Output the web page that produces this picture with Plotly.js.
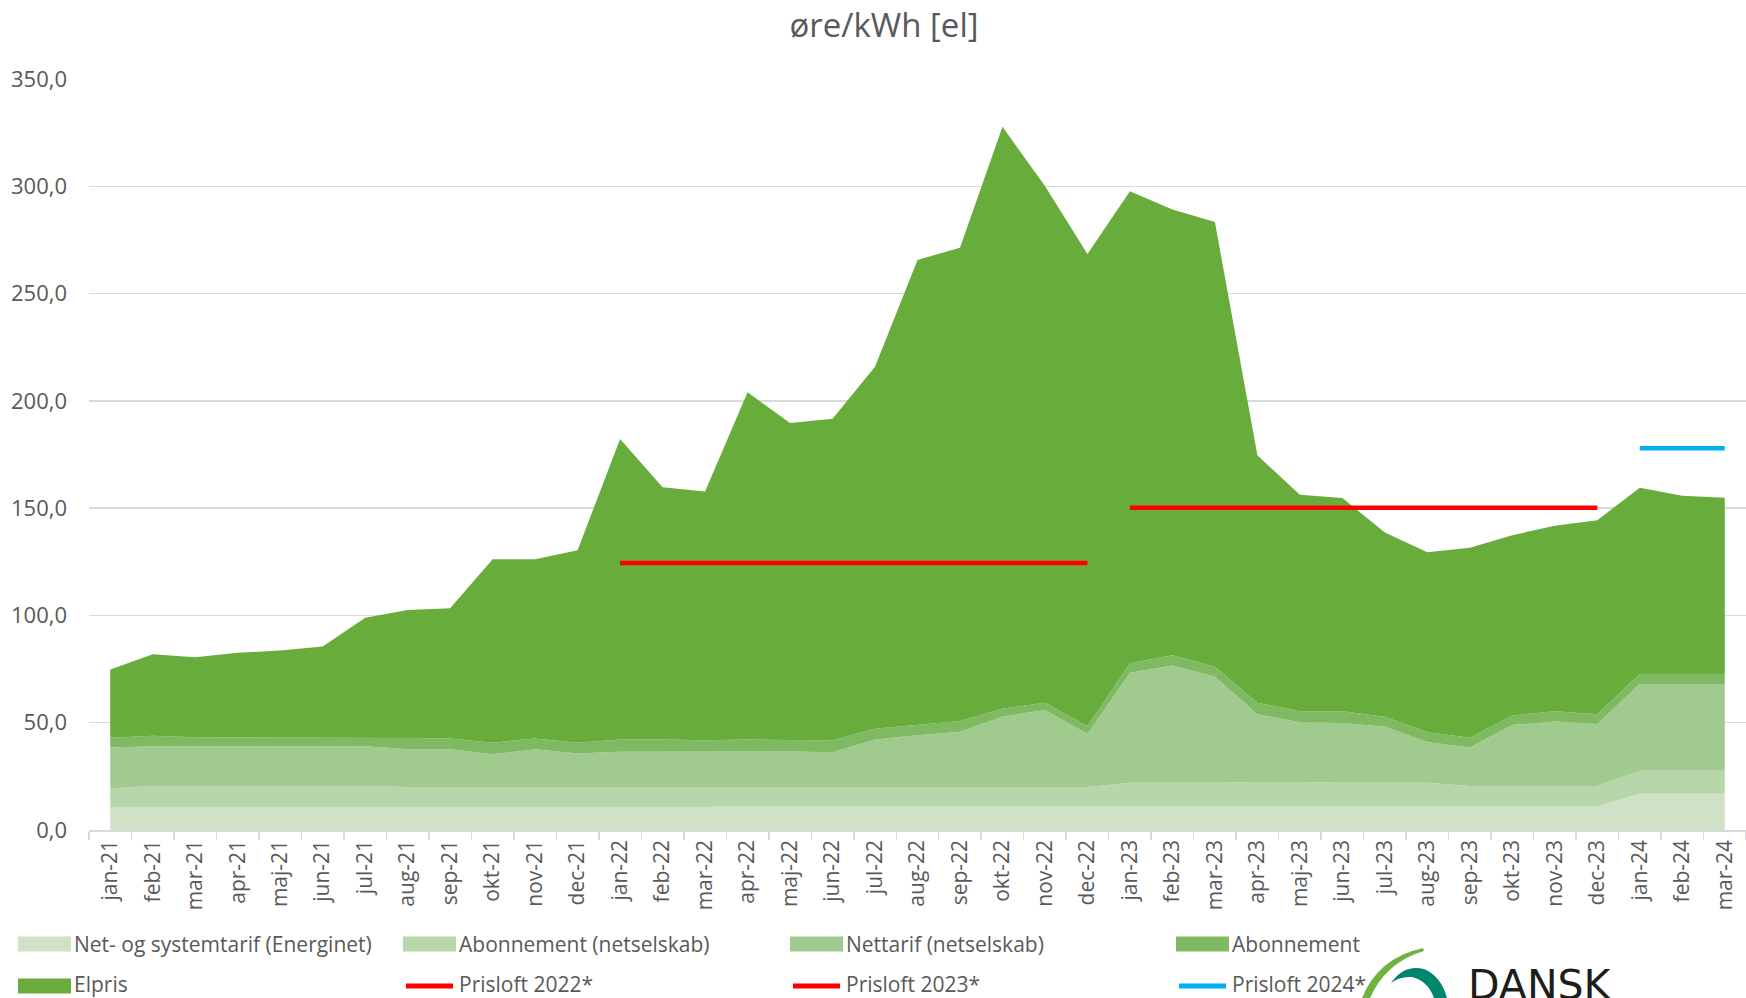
<!DOCTYPE html>
<html>
<head>
<meta charset="utf-8">
<script src="https://cdn.plot.ly/plotly-3.0.1.min.js"></script>
<style>
html,body{margin:0;padding:0;background:#fff;}
#chart{width:1746px;height:998px;}
</style>
</head>
<body>
<div id="chart"></div>
<script>
// ---------- data ----------
const months = ['jan-21','feb-21','mar-21','apr-21','maj-21','jun-21','jul-21','aug-21','sep-21','okt-21','nov-21','dec-21',
  'jan-22','feb-22','mar-22','apr-22','maj-22','jun-22','jul-22','aug-22','sep-22','okt-22','nov-22','dec-22',
  'jan-23','feb-23','mar-23','apr-23','maj-23','jun-23','jul-23','aug-23','sep-23','okt-23','nov-23','dec-23',
  'jan-24','feb-24','mar-24'];

const energinet = [10.7,10.7,10.7,10.7,10.7,10.7,10.7,10.7,10.7,10.7,10.7,10.7,
  10.7,10.7,10.7,11.2,11.2,11.2,11.2,11.2,11.2,11.2,11.2,11.2,
  11.2,11.2,11.2,11.2,11.2,11.2,11.2,11.2,11.2,11.2,11.2,11.2,
  16.9,16.9,16.9];
const aboNetselskab = [8.6,9.8,9.8,9.8,9.8,9.8,9.8,9.3,9.3,9.3,9.3,9.3,
  9.3,9.3,9.3,8.8,8.8,8.8,8.8,8.8,8.8,8.8,8.8,8.8,
  10.8,10.8,10.8,11.2,11.2,10.8,10.8,10.8,9.3,9.3,9.3,9.3,
  10.7,10.7,10.7];
const nettarif = [19.2,18.5,18.5,18.5,18.5,18.5,18.5,17.6,17.6,15.3,17.6,15.6,
  16.5,16.5,16.5,16.8,16.6,16.2,22.2,24.1,25.8,32.8,35.9,24.7,
  51.3,54.7,49.4,31.6,27.8,27.9,26.1,19.0,18.0,28.4,30.1,28.9,
  40.4,40.4,40.4];
const abonnement = [4.5,4.9,4.2,4.2,4.2,4.2,4.2,5.3,5.0,5.4,5.1,5.1,
  5.7,5.7,5.3,5.4,5.3,5.6,5.0,5.0,5.0,3.7,3.4,3.8,
  4.4,4.7,4.7,5.3,5.1,5.4,4.7,4.5,4.5,4.5,4.7,4.5,
  4.7,4.7,4.7];
const elpris = [31.8,38.0,37.3,39.4,40.4,42.3,55.7,59.6,60.8,85.5,83.5,89.7,
  140.0,117.5,116.0,161.8,147.8,149.9,168.7,216.6,220.6,271.2,240.8,220.0,
  220.0,207.8,207.2,115.3,100.9,99.4,85.9,83.9,88.5,84.0,86.5,90.5,
  86.8,83.1,82.1];

const prisloft2022Months = ['jan-22','feb-22','mar-22','apr-22','maj-22','jun-22','jul-22','aug-22','sep-22','okt-22','nov-22','dec-22'];
const prisloft2022 = [124.4,124.4,124.4,124.4,124.4,124.4,124.4,124.4,124.4,124.4,124.4,124.4];
const prisloft2023Months = ['jan-23','feb-23','mar-23','apr-23','maj-23','jun-23','jul-23','aug-23','sep-23','okt-23','nov-23','dec-23'];
const prisloft2023 = [150.2,150.2,150.2,150.2,150.2,150.2,150.2,150.2,150.2,150.2,150.2,150.2];
const prisloft2024Months = ['jan-24','feb-24','mar-24'];
const prisloft2024 = [177.9,177.9,177.9];

const seriesNames = ['Net- og systemtarif (Energinet)','Abonnement (netselskab)','Nettarif (netselskab)','Abonnement','Elpris','Prisloft 2022*','Prisloft 2023*','Prisloft 2024*'];
const yTickVals = [0,50,100,150,200,250,300,350];

// ---------- styling ----------
const areaColors = ['#cfe2c8','#b7d6aa','#a1ca8f','#7fba62','#68ac3c'];
const lineColors = ['#ff0000','#ff0000','#00b0f0'];
const textColor = '#595959';
const FONT = '"Open Sans", "Noto Sans", sans-serif';

const W = 1746, H = 998, ML = 89, MR = 0, MT = 79, MB = 168;
const PW = W - ML - MR, PH = H - MT - MB;
const px = x => (x - ML) / PW;
const py = y => (H - MB - y) / PH;

const areaData = [energinet, aboNetselskab, nettarif, abonnement, elpris];
const traces = areaData.map((vals, i) => ({
  type: 'scatter', mode: 'lines', x: months, y: vals, name: seriesNames[i],
  stackgroup: 'one', fill: 'tonexty', fillcolor: areaColors[i],
  line: {width: 0, color: areaColors[i]}, hoverinfo: 'x+y+name', showlegend: false
}));
[[prisloft2022Months, prisloft2022], [prisloft2023Months, prisloft2023], [prisloft2024Months, prisloft2024]].forEach((d, i) => {
  traces.push({type: 'scatter', mode: 'lines', x: d[0], y: d[1], name: seriesNames[5 + i],
    line: {color: lineColors[i], width: 4.5}, showlegend: false});
});

// ---------- custom legend (Excel-like) ----------
const shapes = [];
const annotations = [];
const legCols = [18, 403, 790, 1176];
const legRows = [944, 984];
seriesNames.forEach((name, i) => {
  const col = i % 4, row = Math.floor(i / 4);
  const x0 = legCols[col], yc = legRows[row];
  const ys = row === 0 ? yc : yc + 2;
  if (i < 5) {
    shapes.push({type: 'rect', xref: 'paper', yref: 'paper', x0: px(x0), x1: px(x0 + 53), y0: py(ys - 7.5), y1: py(ys + 7.5),
      fillcolor: areaColors[i], line: {width: 0}});
  } else {
    shapes.push({type: 'line', xref: 'paper', yref: 'paper', x0: px(x0 + 3), x1: px(x0 + 50), y0: py(ys), y1: py(ys),
      line: {color: lineColors[i - 5], width: 5}});
  }
  annotations.push({xref: 'paper', yref: 'paper', x: px(x0 + 55), y: py(yc), xanchor: 'left', yanchor: 'middle',
    borderpad: 0, text: name, showarrow: false, font: {family: FONT, size: 21, color: textColor}});
});

// ---------- logo (cut off at the bottom right) ----------
const pth = pts => pts.map(p => typeof p === 'string' ? p : (px(p[0]).toFixed(5) + ',' + py(p[1]).toFixed(5))).join(' ');
shapes.push({type: 'path', xref: 'paper', yref: 'paper', fillcolor: '#6db540', line: {width: 0},
  path: pth(['M', [1423, 948], 'Q', [1378, 958], [1362, 998], 'L', [1370, 998], 'Q', [1386, 962], [1424, 951], 'Z'])});
shapes.push({type: 'path', xref: 'paper', yref: 'paper', fillcolor: '#00866f', line: {width: 0},
  path: pth(['M', [1391, 983], 'Q', [1404, 964], [1424, 969], 'Q', [1441, 976], [1447, 998], 'L', [1434, 998],
    'Q', [1428, 981], [1412, 977], 'Q', [1400, 976], [1391, 983], 'Z'])});
annotations.push({xref: 'paper', yref: 'paper', x: px(1466), y: py(985), xanchor: 'left', yanchor: 'middle',
  text: 'DANSK', showarrow: false, font: {family: '"DejaVu Sans", "Liberation Sans", sans-serif', size: 41, color: '#1d1d1b'}});

const layout = {
  width: W, height: H,
  margin: {l: ML, r: MR, t: MT, b: MB, pad: 0},
  paper_bgcolor: '#ffffff', plot_bgcolor: '#ffffff',
  separators: ',.',
  font: {family: FONT, color: textColor, size: 20},
  title: {text: 'øre/kWh [el]', xref: 'container', yref: 'container', x: 884 / W, y: 1 - 25 / H,
    xanchor: 'center', yanchor: 'middle', font: {family: FONT, size: 33, color: textColor}},
  showlegend: false,
  xaxis: {type: 'category', categoryorder: 'array', categoryarray: months, range: [-0.5, months.length - 0.5],
    tickangle: -90, tickson: 'boundaries', ticks: 'outside', ticklen: 8, tickcolor: '#d9d9d9', tickwidth: 1.5,
    showgrid: false, showline: true, linecolor: '#d9d9d9', linewidth: 1.5, zeroline: false,
    tickfont: {family: FONT, size: 21, color: textColor}, fixedrange: true},
  yaxis: {range: [0, 350], tickvals: yTickVals, tickformat: '.1f', showgrid: true, gridcolor: '#d9d9d9', gridwidth: 1.5,
    zeroline: false, showline: false, ticks: '', ticklabelstandoff: 21,
    tickfont: {family: FONT, size: 22, color: textColor}, fixedrange: true},
  shapes: shapes,
  annotations: annotations
};

Plotly.newPlot('chart', traces, layout, {displayModeBar: false, staticPlot: true});
</script>
</body>
</html>
